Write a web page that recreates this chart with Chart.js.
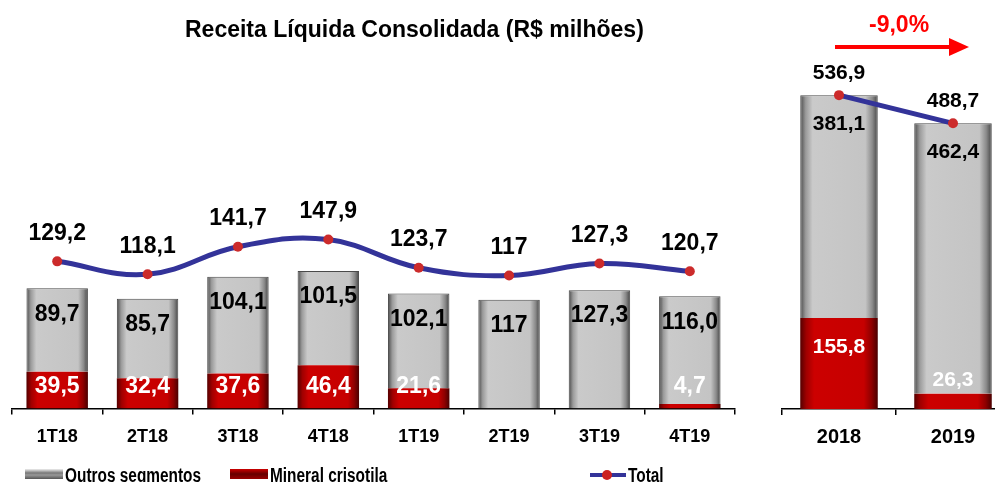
<!DOCTYPE html>
<html>
<head>
<meta charset="utf-8">
<script src="https://cdn.jsdelivr.net/npm/chart.js@4.4.1/dist/chart.umd.min.js"></script>
<style>
  html, body { margin: 0; padding: 0; background: #fff; overflow: hidden; }
  body { width: 995px; height: 482px; position: relative; font-family: "Liberation Sans", Arial, sans-serif; }
  #left { position: absolute; left: 0; top: 0; width: 745px; height: 482px; }
  #right { position: absolute; left: 770px; top: 0; width: 245px; height: 482px; }
  #title { position: absolute; left: 185px; top: 16px; font-weight: bold; font-size: 23px; color: #000; white-space: nowrap; }
  #delta { position: absolute; left: 869px; top: 11px; font-weight: bold; font-size: 23px; color: #f00; }
  #arrow { position: absolute; left: 835px; top: 36px; }
  .legend { position: absolute; top: 464px; font-weight: bold; font-size: 20px; color: #000; white-space: nowrap; }
  .legend .t { display: inline-block; transform: scaleX(0.77); transform-origin: left center; }
  .sw { display: inline-block; width: 38px; height: 10px; vertical-align: 3px; margin-right: 2px; }
</style>
</head>
<body>
<div id="left"><canvas id="c1"></canvas></div>
<div id="right"><canvas id="c2"></canvas></div>
<div id="title">Receita Líquida Consolidada (R$ milhões)</div>
<div id="delta">-9,0%</div>
<svg id="arrow" width="135" height="22"><line x1="0" y1="11" x2="116" y2="11" stroke="#f00" stroke-width="4"/><polygon points="114,2 134,11 114,20" fill="#f00"/></svg>
<div class="legend" style="left:25px"><span class="sw" style="background:linear-gradient(#eee,#777 40%,#999 60%,#555)"></span><span class="t">Outros segmentos</span></div>
<div class="legend" style="left:230px"><span class="sw" style="background:linear-gradient(#c00,#600 50%,#900)"></span><span class="t">Mineral crisotila</span></div>
<div class="legend" style="left:590px"><span style="display:inline-block;position:relative;width:36px;height:10px;vertical-align:2px;margin-right:2px"><span style="position:absolute;left:0;top:3px;width:36px;height:4px;background:#333399"></span><span style="position:absolute;left:12px;top:0;width:10px;height:10px;border-radius:5px;background:#cc2222"></span></span><span class="t">Total</span></div>

<script>
// trimestres
const quarters = ['1T18', '2T18', '3T18', '4T18', '1T19', '2T19', '3T19', '4T19'];
const qMineral = [39.5, 32.4, 37.6, 46.4, 21.6, 0, 0, 4.7];
const qOutros = [89.7, 85.7, 104.1, 101.5, 102.1, 117, 127.3, 116.0];
const qTotal = [129.2, 118.1, 141.7, 147.9, 123.7, 117, 127.3, 120.7];
const qMineralText = ['39,5', '32,4', '37,6', '46,4', '21,6', '', '', '4,7'];
const qOutrosText = ['89,7', '85,7', '104,1', '101,5', '102,1', '117', '127,3', '116,0'];
const qTotalText = ['129,2', '118,1', '141,7', '147,9', '123,7', '117', '127,3', '120,7'];

// anos
const years = ['2018', '2019'];
const yMineral = [155.8, 26.3];
const yOutros = [381.1, 462.4];
const yTotal = [536.9, 488.7];
const yMineralText = ['155,8', '26,3'];
const yOutrosText = ['381,1', '462,4'];
const yTotalText = ['536,9', '488,7'];

const GRAY = [[0, '#4a4a4a'], [0.07, '#9a9a9a'], [0.16, '#cacaca'], [0.84, '#c4c4c4'], [0.93, '#8a8a8a'], [1, '#444']];
const RED = [[0, '#550000'], [0.08, '#a00000'], [0.18, '#cc0000'], [0.82, '#c60000'], [0.92, '#8e0000'], [1, '#4a0000']];

function barFill(stops, fallback) {
    return function(ctx) {
        const chart = ctx.chart;
        const xs = chart.scales.x;
        if (!xs || !chart.chartArea || ctx.dataIndex === undefined) return fallback;
        const cat = xs.width / chart.data.labels.length;
        const w = cat * 0.8 * 0.85;
        const cx = xs.getPixelForValue(ctx.dataIndex);
        const g = chart.ctx.createLinearGradient(cx - w / 2, 0, cx + w / 2, 0);
        stops.forEach(s => g.addColorStop(s[0], s[1]));
        return g;
    };
}

// rótulos de valores
const labelPlugin = {
    id: 'valueLabels',
    afterDatasetsDraw(chart) {
        const c = chart.ctx;
        const base = chart.scales.x.top;
        c.save();
        c.textAlign = 'center';
        c.textBaseline = 'middle';
        chart.data.datasets.forEach((ds, i) => {
            const meta = chart.getDatasetMeta(i);
            meta.data.forEach((el, j) => {
                const txt = ds.texts[j];
                if (!txt) return;
                c.font = 'bold ' + ds.labelSize + 'px "Liberation Sans", Arial, sans-serif';
                let y;
                if (ds.kind === 'mineral') {
                    c.fillStyle = '#fff';
                    y = Math.min(el.y + ds.topOff, base - ds.baseOff);
                } else if (ds.kind === 'outros') {
                    c.fillStyle = '#000';
                    y = el.y + ds.topOff;
                } else {
                    c.fillStyle = '#000';
                    y = el.y - ds.topOff;
                }
                c.fillText(txt, el.x, y);
            });
        });
        c.restore();
    }
};

function xAxis(fontSize, pad) {
    return {
        stacked: true,
        grid: { offset: true, drawOnChartArea: false, drawTicks: true, tickLength: 6, color: '#000', lineWidth: 1.5 },
        border: { display: true, color: '#000', width: 1.5 },
        ticks: { color: '#000', padding: pad, font: { family: '"Liberation Sans", Arial', size: fontSize, weight: 'bold' } }
    };
}

new Chart(document.getElementById('c1'), {
    data: {
        labels: quarters,
        datasets: [
            { type: 'line', data: qTotal, yAxisID: 'y2', order: 0, borderColor: '#333399', borderWidth: 5,
              tension: 0.4, pointRadius: 5, pointBackgroundColor: '#cc2b2b', pointBorderWidth: 0,
              texts: qTotalText, kind: 'total', topOff: 28, labelSize: 23 },
            { type: 'bar', data: qMineral, yAxisID: 'y', order: 1, backgroundColor: barFill(RED, '#c00'),
              categoryPercentage: 0.8, barPercentage: 0.85, borderWidth: 0,
              texts: qMineralText, kind: 'mineral', topOff: 28, baseOff: 22, labelSize: 23 },
            { type: 'bar', data: qOutros, yAxisID: 'y', order: 2, backgroundColor: barFill(GRAY, '#c4c4c4'),
              categoryPercentage: 0.8, barPercentage: 0.85, borderColor: '#4a4a4a', borderWidth: 1,
              texts: qOutrosText, kind: 'outros', topOff: 26, labelSize: 23 }
        ]
    },
    options: {
        responsive: true,
        maintainAspectRatio: false,
        animation: false,
        layout: { padding: { left: 12, right: 10, top: 60, bottom: 22 } },
        plugins: { legend: { display: false }, tooltip: { enabled: false } },
        scales: {
            x: xAxis(18, 12),
            y: { stacked: true, display: false, min: 0, max: 375 },
            y2: { display: false, min: 3, max: 302 }
        }
    },
    plugins: [labelPlugin]
});

new Chart(document.getElementById('c2'), {
    data: {
        labels: years,
        datasets: [
            { type: 'line', data: yTotal, yAxisID: 'y2', order: 0, borderColor: '#333399', borderWidth: 5,
              tension: 0, pointRadius: 5, pointBackgroundColor: '#cc2b2b', pointBorderWidth: 0,
              texts: yTotalText, kind: 'total', topOff: 22, labelSize: 21 },
            { type: 'bar', data: yMineral, yAxisID: 'y', order: 1, backgroundColor: barFill(RED, '#c00'),
              categoryPercentage: 0.8, barPercentage: 0.85, borderWidth: 0,
              texts: yMineralText, kind: 'mineral', topOff: 29, baseOff: 29, labelSize: 21 },
            { type: 'bar', data: yOutros, yAxisID: 'y', order: 2, backgroundColor: barFill(GRAY, '#c4c4c4'),
              categoryPercentage: 0.8, barPercentage: 0.85, borderColor: '#4a4a4a', borderWidth: 1,
              texts: yOutrosText, kind: 'outros', topOff: 29, labelSize: 21 }
        ]
    },
    options: {
        responsive: true,
        maintainAspectRatio: false,
        animation: false,
        layout: { padding: { left: 12, right: 5, top: 60, bottom: 23 } },
        plugins: { legend: { display: false }, tooltip: { enabled: false } },
        scales: {
            x: xAxis(20, 10),
            y: { stacked: true, display: false, min: 0, max: 597 },
            y2: { display: false, min: 0, max: 597 }
        }
    },
    plugins: [labelPlugin]
});
</script>
</body>
</html>
